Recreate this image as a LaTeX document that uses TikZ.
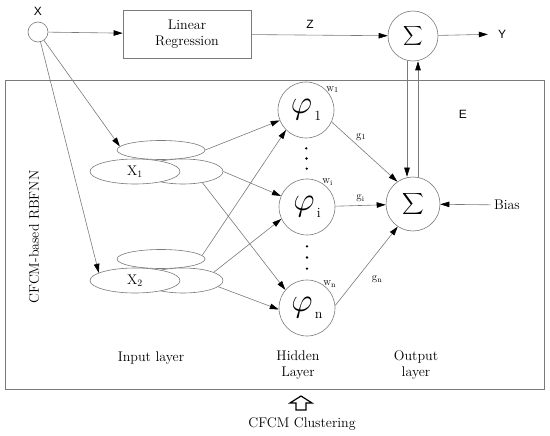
\documentclass[tikz,border=0pt]{standalone}
\usepackage{fontspec}
\usepackage{tikz}
\usetikzlibrary{arrows.meta,positioning,calc,shapes.geometric}
\newfontfamily\lblfont{Liberation Sans}
\definecolor{LineGray}{HTML}{7A7A7A}

\begin{document}
\begin{tikzpicture}[x=1pt,y=-1pt, every node/.style={font=\fontsize{14}{16}\selectfont,text=black},
		arr/.style={-{Triangle[length=9pt,width=5.5pt,color=black]},LineGray,line width=0.6pt},
		box/.style={draw=LineGray,line width=0.6pt,align=center},
		neuron/.style={circle,draw=LineGray,line width=0.6pt,minimum size=56pt,inner sep=0pt},
		sumnode/.style={circle,draw=LineGray,line width=0.6pt,inner sep=0pt},
		clus/.style={ellipse,draw=LineGray,line width=0.6pt,fill=white,inner sep=0pt},
		lbl/.style={font=\lblfont\fontsize{12}{14}\selectfont,inner sep=0pt},
		wlab/.style={font=\fontsize{11}{13}\selectfont,inner sep=0pt}]
		\useasboundingbox (0,0) rectangle (550,436);
		\draw[LineGray,line width=0.6pt] (5,80) rectangle (544,389);
		\node[circle,draw=LineGray,line width=0.6pt,minimum size=20pt,inner sep=0pt] (xin) at (38,32) {};
		\node[lbl,above=6pt of xin] (xlab) {X};
		\node[box,minimum width=128pt,minimum height=48pt] (lr) at (187,34) {Linear\\Regression};
		\node[sumnode,minimum size=50pt] (s1) at (413,36) {\scalebox{1.35}{$\displaystyle\sum$}};
		\node[lbl] (ylab) at (502,34) {Y};
		\node[sumnode,minimum size=54pt] (s2) at (413,204) {\scalebox{1.5}{$\displaystyle\sum$}};
		\node (bias) at (507,205) {Bias};
		\node[lbl] (elab) at (463,114) {E};
		\node[neuron,label={[wlab,name=w1,label distance=-2pt]40:w\textsubscript{1}}] (p1) at (306,110) {\scalebox{2.3}{$\varphi$}\,\raisebox{-1.1ex}{1}};
		\node[neuron,label={[wlab,name=wi,label distance=-2pt]55:w\textsubscript{i}}] (pi) at (307,207) {\scalebox{2.3}{$\varphi$}\,\raisebox{-1.1ex}{i}};
		\node[neuron,label={[wlab,name=wn,label distance=-2pt]52:w\textsubscript{n}}] (pn) at (307,308) {\scalebox{2.3}{$\varphi$}\,\raisebox{-1.1ex}{n}};
		\foreach \k in {1,2,3} {
			\fill ($(p1.south)!\k/4!(pi.north)$) circle (1.3pt);
			\fill ($(pi.south)!\k/4!(pn.north)$) circle (1.3pt);
		}
		\foreach \k/\yy in {1/150,2/259} {
			\node[clus,minimum width=88pt,minimum height=19pt] (x\k u) at (161,\yy) {};
			\node[clus,minimum width=80pt,minimum height=25pt] (x\k r) at (183,\yy+21.5) {};
			\node[clus,minimum width=90pt,minimum height=25pt] (x\k l) at (135,\yy+21.5) {X\textsubscript{\k}};
		}
		\node[rotate=90] (rbf) at (34,237) {CFCM-based RBFNN};
		\node (inl) at (151,358) {Input layer};
		\node[align=center] (hidl) at (298,365) {Hidden\\Layer};
		\node[align=center] (outl) at (416,365) {Output\\layer};
		\coordinate (up) at (301,410);
		\draw[line width=1.2pt,line join=miter] (up) ++(-5,0) -- ++(0,-7) -- ++(-6,0) -- ++(11,-7) -- ++(11,7) -- ++(-6,0) -- ++(0,7) -- cycle;
		\node (clu) at (302,424) {CFCM Clustering};
		\draw[arr] (xin) -- (lr);
		\draw[arr] (lr) -- (s1) node[lbl,pos=0.43,above=6pt] (zlab) {Z};
		\draw[arr,shorten >=10pt] (s1) -- (ylab);
		\draw[arr] ([xshift=-6pt]s1.south) -- ([xshift=-6pt]s2.north);
		\draw[arr] ([xshift=5pt]s2.north) -- ([xshift=5pt]s1.south);
		\draw[arr] (bias) -- (s2);
		\draw[arr] (xin) -- (x1u.175);
		\draw[arr] (xin) -- (x2l.168);
		\draw[arr] (x1u.east) -- (p1);
		\draw[arr] (x1r.east) -- (pi);
		\draw[arr] (x1r.-30) -- (pn.140);
		\draw[arr] (x2u.5) -- (p1.225);
		\draw[arr] (x2r.15) -- (pi.205);
		\draw[arr] (x2r.-10) -- (pn.183);
		\draw[arr] (p1.-25) -- (s2.125) node[wlab,pos=0.45,above=8pt] (g1) {g\textsubscript{1}};
		\draw[arr] (pi) -- (s2) node[wlab,midway,above=3pt] (gi) {g\textsubscript{i}};
		\draw[arr] (pn.5) -- (s2.236) node[wlab,pos=0.55,below right=13pt and 2pt] (gn) {g\textsubscript{n}};
	\end{tikzpicture}
\end{document}
